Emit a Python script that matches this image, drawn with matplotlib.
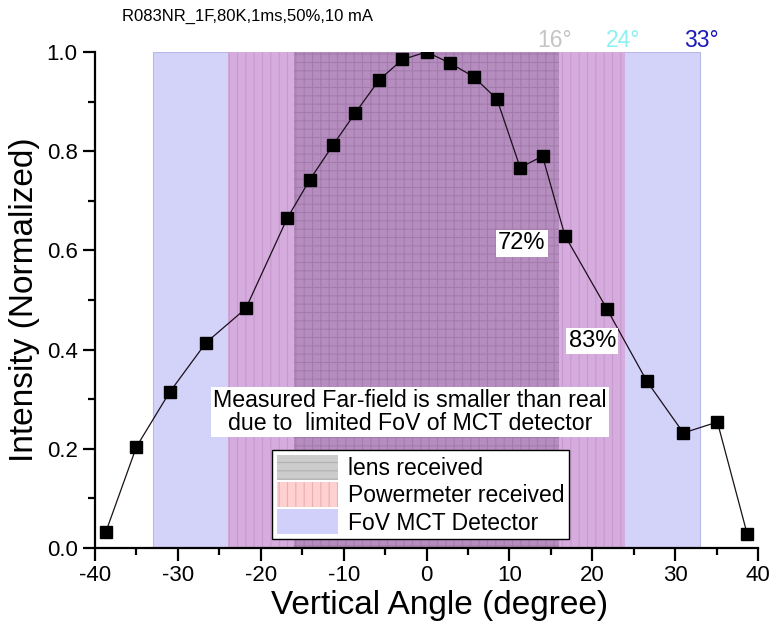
import matplotlib
matplotlib.use("Agg")
import matplotlib.pyplot as plt
from matplotlib.patches import Patch
from matplotlib.ticker import MultipleLocator, FormatStrFormatter

plt.rcParams['font.family'] = ['Liberation Sans', 'DejaVu Sans']
plt.rcParams['hatch.linewidth'] = 0.8
plt.rcParams['axes.unicode_minus'] = False

# Far-field scan: vertical angle (deg) vs normalized intensity
angle = [-38.7, -35.0, -31.0, -26.6, -21.8, -16.8, -14.1, -11.3, -8.6, -5.7, -2.9, 0.0,
         2.8, 5.7, 8.5, 11.3, 14.0, 16.7, 21.8, 26.6, 31.0, 35.1, 38.7]
intensity = [0.032, 0.204, 0.314, 0.414, 0.483, 0.665, 0.742, 0.812, 0.877, 0.944, 0.985, 1.0,
             0.978, 0.950, 0.905, 0.767, 0.790, 0.630, 0.481, 0.336, 0.232, 0.254, 0.028]

# Half-widths (deg) of the acceptance regions
fov_half = 33
power_half = 24
lens_half = 16

band_labels = ["lens received", "Powermeter received", "FoV MCT Detector"]
edge_labels = ["16", "24", "33"]
edge_pos = [15.4, 23.7, 33.2]
edge_colors = ["#c4c4c4", "#8ef0f0", "#1a1ab8"]

fig = plt.figure(figsize=(7.73, 6.26), dpi=100)
ax = fig.add_axes([0.1229, 0.1246, 0.8577, 0.7923])

ax.axvspan(-fov_half, fov_half, ymin=0, ymax=1, facecolor="#d3d3fa",
           edgecolor="#b8b8e8", linewidth=0.8, zorder=0)
ax.axvspan(-power_half, power_half, facecolor="#d6abdd", edgecolor="#c69ace",
           hatch="||", linewidth=0, zorder=1)
ax.axvspan(-lens_half, lens_half, facecolor="#b68dbf", edgecolor="#a37cad",
           hatch="++", linewidth=0, zorder=2)

ax.plot(angle, intensity, color="#1a0f1a", linewidth=0.9, marker="s",
        markersize=8.5, markerfacecolor="black", markeredgecolor="black", zorder=5)

ax.set_xlim(-40, 40)
ax.set_ylim(0, 1.0)
ax.xaxis.set_major_locator(MultipleLocator(10))
ax.xaxis.set_minor_locator(MultipleLocator(5))
ax.yaxis.set_major_locator(MultipleLocator(0.2))
ax.yaxis.set_minor_locator(MultipleLocator(0.1))
ax.yaxis.set_major_formatter(FormatStrFormatter('%.1f'))
for s in ("top", "right"):
    ax.spines[s].set_visible(False)
for s in ("left", "bottom"):
    ax.spines[s].set_linewidth(1.6)
ax.tick_params(which="major", direction="out", length=9, width=1.6, labelsize=16)
ax.tick_params(which="minor", direction="out", length=5, width=1.6)
ax.set_xlabel("Vertical Angle (degree)", fontsize=24, va="center")
ax.set_ylabel("Intensity (Normalized)", fontsize=24, va="center")
ax.xaxis.set_label_coords(0.52, -0.115)
ax.yaxis.set_label_coords(-0.106, 0.5)

box = dict(facecolor="white", edgecolor="none", pad=1.5)
ax.text(11.5, 0.614, "72%", fontsize=17, ha="center", va="center", bbox=box, zorder=6)
ax.text(20.0, 0.417, "83%", fontsize=17, ha="center", va="center", bbox=box, zorder=6)
ax.text(-2.0, 0.275, "Measured Far-field is smaller than real\ndue to  limited FoV of MCT detector",
        fontsize=16.7, ha="center", va="center", linespacing=1.0, bbox=box, zorder=6)

for lab, xp, c in zip(edge_labels, edge_pos, edge_colors):
    ax.text(xp, 1.024, lab + "°", color=c, fontsize=16.5, ha="center", va="center",
            clip_on=False)

handles = [
    Patch(facecolor="#cccccc", edgecolor="#b0b0b0", hatch="--", linewidth=0),
    Patch(facecolor="#ffd0d0", edgecolor="#e8b0b0", hatch="||", linewidth=0),
    Patch(facecolor="#d0d0fa", edgecolor="#d0d0fa", linewidth=0),
]
leg = ax.legend(handles, band_labels, loc="upper left", bbox_to_anchor=(0.267, 0.1976),
                fontsize=16.5, frameon=True, fancybox=False, framealpha=1,
                edgecolor="black", handlelength=2.7, handleheight=1.3,
                handletextpad=0.4, borderpad=0.2, labelspacing=0.1, borderaxespad=0)
leg.get_frame().set_linewidth(1.0)
leg.set_zorder(7)

fig.text(122 / 773, 1 - 16 / 626, "R083NR_1F,80K,1ms,50%,10 mA", fontsize=12,
         ha="left", va="center")

fig.savefig("out.png", dpi=100, facecolor="white")
